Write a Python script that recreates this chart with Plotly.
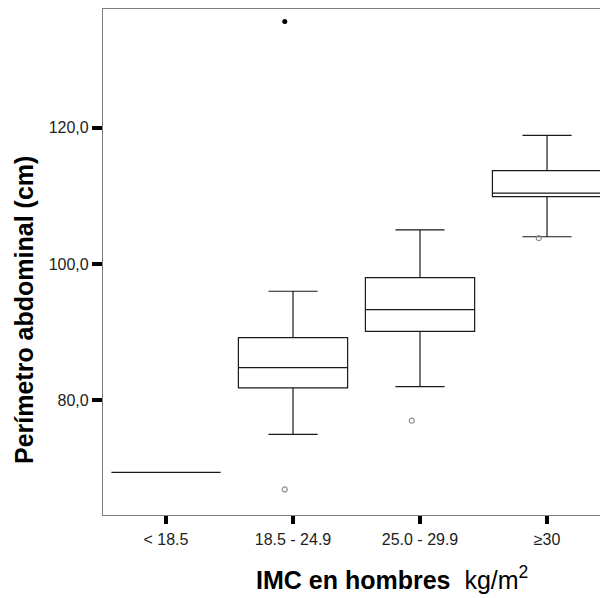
import plotly.graph_objects as go

# Waist circumference by BMI group (men)
categories = ["< 18.5", "18.5 - 24.9", "25.0 - 29.9", "≥30"]
q1_values = [69.4, 81.8, 90.1, 109.9]
median_values = [69.4, 84.8, 93.3, 110.4]
q3_values = [69.4, 89.2, 98.0, 113.7]
lower_whisker = [69.4, 75.0, 82.0, 104.0]
upper_whisker = [69.4, 96.0, 105.0, 118.9]

# outliers: (group index, value)
mild_outlier_group = [1, 2, 3]
mild_outlier_value = [66.9, 77.0, 103.8]
extreme_outlier_group = [1]
extreme_outlier_value = [135.6]

y_ticks = [80, 100, 120]
y_tick_text = ["80,0", "100,0", "120,0"]

positions = list(range(len(categories)))
marker_shift = -0.065  # outlier symbols sit slightly left of the box centre

font_family = "Arial, 'Liberation Sans', sans-serif"

fig = go.Figure()

for i, pos in enumerate(positions):
    fig.add_trace(go.Box(
        x=[pos],
        q1=[q1_values[i]],
        median=[median_values[i]],
        q3=[q3_values[i]],
        lowerfence=[lower_whisker[i]],
        upperfence=[upper_whisker[i]],
        width=0.86,
        whiskerwidth=0.45,
        fillcolor="white",
        line=dict(color="#1a1a1a", width=1.2),
        boxpoints=False,
        showlegend=False,
        hoverinfo="skip",
    ))

fig.add_trace(go.Scatter(
    x=[g + marker_shift for g in mild_outlier_group],
    y=mild_outlier_value,
    mode="markers",
    marker=dict(symbol="circle-open", size=5, color="#8c8c8c", line=dict(width=1.2)),
    showlegend=False,
    hoverinfo="skip",
))

fig.add_trace(go.Scatter(
    x=[g + marker_shift for g in extreme_outlier_group],
    y=extreme_outlier_value,
    mode="markers",
    marker=dict(symbol="circle", size=5, color="black"),
    showlegend=False,
    hoverinfo="skip",
))

fig.update_layout(
    width=600,
    height=598,
    margin=dict(l=103, r=0, t=9, b=83),
    paper_bgcolor="white",
    plot_bgcolor="white",
    font=dict(family=font_family, color="#222222", size=16),
    boxmode="overlay",
    xaxis=dict(
        range=[-0.496, 3.417],
        tickvals=positions,
        ticktext=categories,
        showline=True,
        linecolor="#7f7f7f",
        linewidth=1.2,
        mirror=True,
        ticks="outside",
        ticklen=8,
        tickwidth=3.5,
        tickcolor="black",
        showgrid=False,
        zeroline=False,
        tickfont=dict(size=16, color="#222222"),
        ticklabelstandoff=2,
    ),
    yaxis=dict(
        range=[63.15, 137.44],
        tickvals=y_ticks,
        ticktext=y_tick_text,
        showline=True,
        linecolor="#7f7f7f",
        linewidth=1.2,
        ticks="outside",
        ticklen=10,
        tickwidth=3.5,
        tickcolor="black",
        showgrid=False,
        zeroline=False,
        tickfont=dict(size=16, color="#222222"),
    ),
    annotations=[
        dict(
            text="<b>Perímetro abdominal (cm)</b>",
            xref="paper", yref="paper",
            x=-0.159, y=0.405,
            xanchor="center", yanchor="middle",
            textangle=-90,
            showarrow=False,
            font=dict(size=25, color="black", family=font_family),
        ),
        dict(
            text="<b>IMC en hombres</b> \u00a0kg/m<sup>2</sup>",
            xref="paper", yref="paper",
            x=0.5805, y=-0.125,
            xanchor="center", yanchor="middle",
            showarrow=False,
            font=dict(size=25, color="black", family=font_family),
        ),
    ],
)

fig.write_html("out.html")
